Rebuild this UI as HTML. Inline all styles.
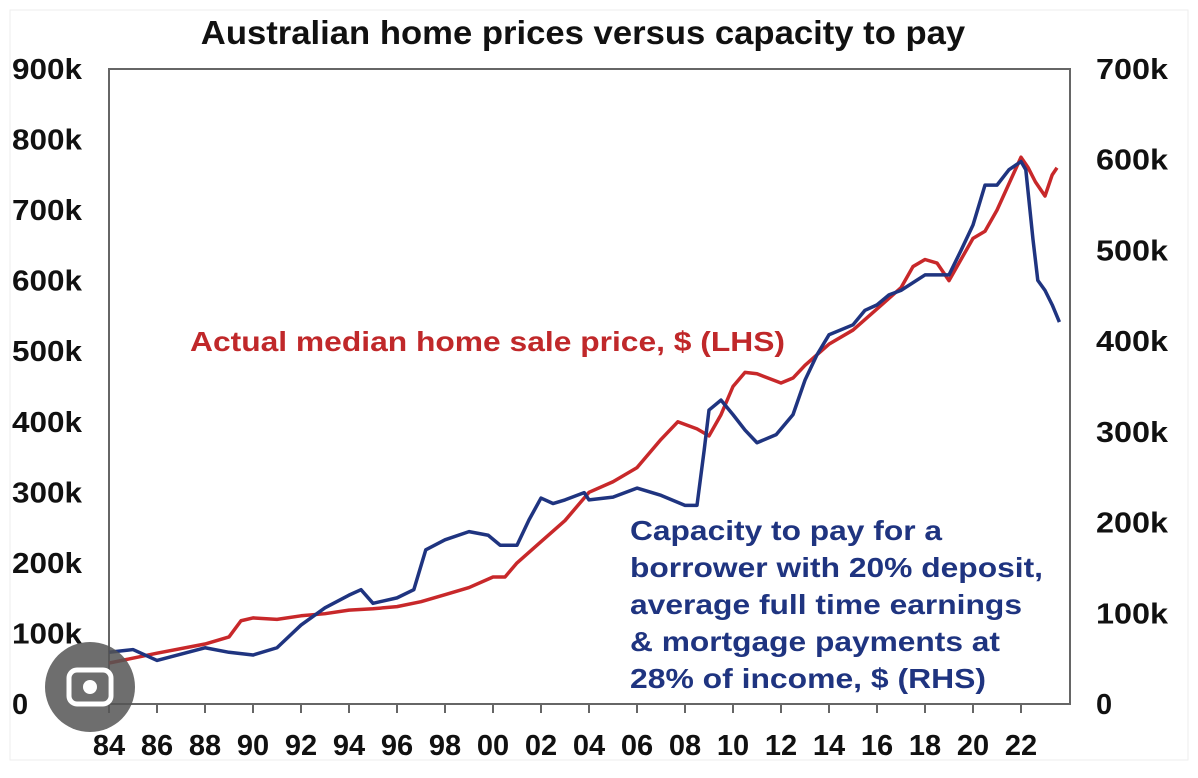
<!DOCTYPE html>
<html><head><meta charset="utf-8"><style>
body{margin:0;background:#fff;}
svg{display:block;font-family:"Liberation Sans",Arial,sans-serif;}
</style></head><body>
<svg id="c" width="1198" height="778" viewBox="0 0 1198 778">
<rect x="10" y="10" width="1178" height="750" fill="#fff" stroke="#eee"/>
<text x="583" y="44" font-size="33" font-weight="bold" text-anchor="middle" fill="#111" transform="translate(583 0) scale(1.05 1) translate(-583 0)">Australian home prices versus capacity to pay</text>
<rect x="109" y="69" width="961" height="635" fill="none" stroke="#666" stroke-width="2"/>
<g id="ticks"></g>
<g id="series"></g>
<text x="190" y="351" font-size="28" font-weight="bold" fill="#c0282a" textLength="595" lengthAdjust="spacingAndGlyphs">Actual median home sale price, $ (LHS)</text>
<g font-size="28" font-weight="bold" fill="#1f3480">
<text x="630" y="540" textLength="312" lengthAdjust="spacingAndGlyphs">Capacity to pay for a</text>
<text x="630" y="577" textLength="413" lengthAdjust="spacingAndGlyphs">borrower with 20% deposit,</text>
<text x="630" y="614" textLength="392" lengthAdjust="spacingAndGlyphs">average full time earnings</text>
<text x="630" y="651" textLength="370" lengthAdjust="spacingAndGlyphs">&amp; mortgage payments at</text>
<text x="630" y="688" textLength="356" lengthAdjust="spacingAndGlyphs">28% of income, $ (RHS)</text>
</g>
<g>
<circle cx="90" cy="687" r="45" fill="#555" opacity="0.85"/>
<rect x="69" y="670" width="42" height="34" rx="8" fill="none" stroke="#fff" stroke-width="5"/>
<circle cx="90" cy="687" r="7" fill="#fff"/>
</g>
</svg>
<script>
const xLabels=["84","86","88","90","92","94","96","98","00","02","04","06","08","10","12","14","16","18","20","22"];
const leftTicks=["0","100k","200k","300k","400k","500k","600k","700k","800k","900k"];
const rightTicks=["0","100k","200k","300k","400k","500k","600k","700k"];
const priceYears=[1984,1986,1988,1989,1989.5,1990,1991,1992,1993,1994,1995,1996,1997,1998,1999,2000,2000.5,2001,2002,2003,2004,2005,2006,2007,2007.7,2008.5,2009,2009.5,2010,2010.5,2011,2012,2012.5,2013,2014,2015,2016,2017,2017.5,2018,2018.5,2019,2019.5,2020,2020.5,2021,2022,2022.3,2022.6,2023,2023.3,2023.5];
const priceValues=[58,72,85,95,118,122,120,125,128,133,135,138,145,155,165,180,180,200,230,260,300,315,335,375,400,390,380,410,450,470,468,455,462,480,510,530,560,590,620,630,625,600,630,660,670,700,775,760,740,720,750,760];
const capYears=[1984,1985,1986,1988,1989,1990,1991,1992,1993,1994,1994.5,1995,1996,1996.7,1997.2,1998,1999,1999.8,2000.3,2001,2001.5,2002,2002.5,2003,2003.8,2004,2005,2006,2007,2008,2008.5,2008.8,2009,2009.5,2010,2010.5,2011,2011.8,2012.5,2013,2013.5,2014,2015,2015.5,2016,2016.5,2017,2018,2019,2019.5,2020,2020.5,2021,2021.5,2022,2022.2,2022.5,2022.7,2023,2023.3,2023.6];
const capValues=[57,60,48,62,57,54,62,87,106,120,126,111,117,126,170,181,190,186,175,175,203,227,221,225,233,225,228,238,230,219,219,280,324,335,319,302,288,297,319,357,385,407,418,434,440,451,456,473,473,500,528,572,572,589,598,589,512,467,456,440,421];
const NS='http://www.w3.org/2000/svg';
const X0=109,Y0=704,YT=69;
const xs=y=>X0+24*(y-1984);
const yl=v=>Y0-(Y0-YT)*v/900;
const yr=v=>Y0-(Y0-YT)*v/700;
function mk(t,a,p){const e=document.createElementNS(NS,t);for(const k in a)e.setAttribute(k,a[k]);p.appendChild(e);return e;}
const tg=document.getElementById('ticks');
xLabels.forEach((l,i)=>{const x=xs(1984+2*i);
 const t=mk('line',{x1:x,x2:x,y1:Y0,y2:Y0+9,stroke:'#666','stroke-width':2},tg);
 
 
 const s=mk('text',{x:x,y:755,'font-size':29,'font-weight':'bold','text-anchor':'middle',fill:'#111'},tg);s.textContent=l;
 
 });
leftTicks.forEach((l,i)=>{const s=mk('text',{x:12,y:yl(i*100)+10,'font-size':29,'font-weight':'bold',fill:'#111'},tg);s.textContent=l;
 if(l.length>1){s.setAttribute('textLength',l.length===4?70:0);s.setAttribute('lengthAdjust','spacingAndGlyphs');}
 
 });
rightTicks.forEach((l,i)=>{const s=mk('text',{x:1096,y:yr(i*100)+10,'font-size':29,'font-weight':'bold',fill:'#111'},tg);s.textContent=l;
 if(l.length===4){s.setAttribute('textLength',72);s.setAttribute('lengthAdjust','spacingAndGlyphs');}
 
 });
const sg=document.getElementById('series');
const p1=mk('polyline',{points:priceYears.map((y,i)=>xs(y)+','+yl(priceValues[i])).join(' '),fill:'none',stroke:'#c8282a','stroke-width':3.5,'stroke-linejoin':'round'},sg);


const p2=mk('polyline',{points:capYears.map((y,i)=>xs(y)+','+yr(capValues[i])).join(' '),fill:'none',stroke:'#1f3480','stroke-width':3.5,'stroke-linejoin':'round'},sg);


</script>
</body></html>
